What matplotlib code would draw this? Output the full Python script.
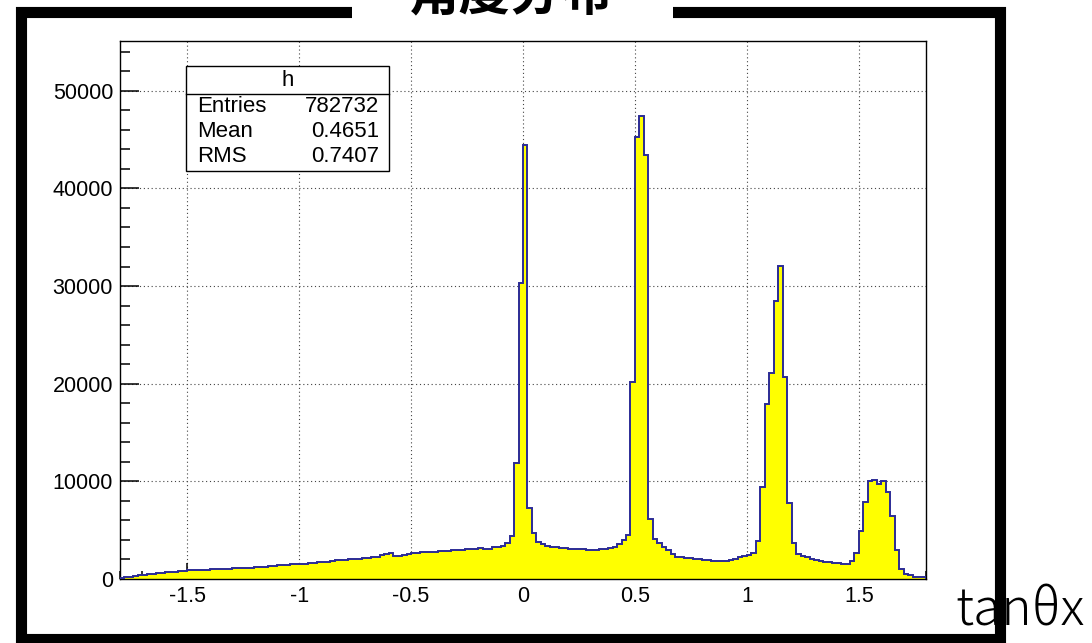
import numpy as np
import matplotlib
matplotlib.use('Agg')
import matplotlib.pyplot as plt
from matplotlib.patches import Rectangle
from matplotlib.lines import Line2D
from matplotlib.ticker import MultipleLocator

# histogram: 180 bins of width 0.02 between -1.8 and 1.8
x_lo, x_hi, n_bins = -1.8, 1.8, 180

# counts, -1.80 .. -0.92
counts_far_neg = [130, 190, 250, 320, 360, 420, 480, 540, 590, 640,
                  690, 720, 760, 800, 850, 880, 880, 910, 940, 950,
                  980, 1000, 1000, 1030, 1060, 1080, 1100, 1110, 1150, 1170,
                  1220, 1250, 1270, 1330, 1360, 1410, 1430, 1460, 1500, 1520,
                  1550, 1580, 1600, 1650, 1700]
# counts, -0.90 .. -0.02
counts_near_neg = [1740, 1780, 1810, 1910, 1950, 1980, 2020, 2050, 2080, 2150,
                   2190, 2220, 2260, 2430, 2560, 2630, 2360, 2390, 2430, 2530,
                   2630, 2700, 2730, 2730, 2770, 2800, 2870, 2900, 2900, 2940,
                   2970, 2970, 3040, 3040, 3110, 3140, 3110, 3110, 3310, 3310,
                   3420, 3700, 4380, 11900, 30300]
# counts, 0.00 .. 0.88
counts_near_pos = [44400, 7250, 4750, 3830, 3590, 3420, 3320, 3250, 3180, 3150,
                   3110, 3080, 3040, 3080, 3010, 2940, 2970, 3040, 3110, 3150,
                   3320, 3590, 4000, 4480, 20200, 45300, 47400, 43400, 6150, 4100,
                   3650, 3300, 2950, 2600, 2290, 2250, 2200, 2120, 2050, 2000,
                   1950, 1920, 1880, 1850, 1820]
# counts, 0.90 .. 1.78
counts_far_pos = [1850, 1920, 2080, 2220, 2360, 2430, 2630, 3930, 9470, 17940,
                  21080, 28430, 32090, 20640, 7760, 3660, 2600, 2360, 2290, 2080,
                  1950, 1810, 1780, 1710, 1670, 1610, 1570, 1540, 1800, 2700,
                  4950, 7930, 10080, 10150, 9740, 10080, 8950, 6460, 2970, 990,
                  510, 380, 240, 240, 170]

x_ticks = [-1.5, -1, -0.5, 0, 0.5, 1, 1.5]
x_ticklabels = ['-1.5', '-1', '-0.5', '0', '0.5', '1', '1.5']
y_ticks = [0, 10000, 20000, 30000, 40000, 50000]
y_top = 55100

stats_name = 'h'
stats_rows = [('Entries', '782732'), ('Mean', '0.4651'), ('RMS', '0.7407')]

counts = np.array(counts_far_neg + counts_near_neg + counts_near_pos + counts_far_pos)
edges = np.linspace(x_lo, x_hi, n_bins + 1)

W, H = 1092, 643
fig = plt.figure(figsize=(W / 100, H / 100), dpi=100)
fig.patch.set_facecolor('white')

def fx(px):
    return px / W

def fy(py):
    return 1 - py / H

ax = fig.add_axes([fx(120), fy(579), fx(926) - fx(120), fy(41) - fy(579)])
ax.stairs(counts, edges, fill=True, color='#ffff00', lw=0, zorder=2)
ax.stairs(counts, edges, baseline=0, color='#2b2b96', lw=1.4, zorder=3)

ax.set_xlim(x_lo, x_hi)
ax.set_ylim(0, y_top)
ax.set_xticks(x_ticks)
ax.set_xticklabels(x_ticklabels)
ax.set_yticks(y_ticks)
ax.set_yticklabels([str(v) for v in y_ticks])
ax.xaxis.set_minor_locator(MultipleLocator(0.1))
ax.yaxis.set_minor_locator(MultipleLocator(2000))

for lab in ax.get_xticklabels() + ax.get_yticklabels():
    lab.set_family('Liberation Sans')
ax.tick_params(axis='x', which='major', direction='in', length=11.5, width=1.1,
               pad=5, labelsize=15.5)
ax.tick_params(axis='x', which='minor', direction='in', length=6, width=1.1)
ax.tick_params(axis='y', which='major', direction='in', length=14, width=1.1,
               pad=5, labelsize=15.5)
ax.tick_params(axis='y', which='minor', direction='in', length=7.5, width=1.1)

ax.grid(True, which='major', linestyle=(0, (1, 2.5)), color='#444444', lw=0.8)
ax.set_axisbelow(True)
for s in ax.spines.values():
    s.set_linewidth(1.0)
    s.set_color('black')

# stats box
box_l, box_r, box_t, box_b, box_sep = 186, 389, 66, 171, 94
fig.add_artist(Rectangle((fx(box_l), fy(box_b)), fx(box_r) - fx(box_l), fy(box_t) - fy(box_b),
                         transform=fig.transFigure, facecolor='white', edgecolor='black',
                         lw=1.0, zorder=6))
fig.add_artist(Line2D([fx(box_l), fx(box_r)], [fy(box_sep), fy(box_sep)],
                      transform=fig.transFigure, color='black', lw=1.0, zorder=7))
fig.text(fx((box_l + box_r) / 2), fy(80), stats_name, ha='center', va='center',
         fontsize=16, family='Liberation Sans', zorder=7)
for i, (k, v) in enumerate(stats_rows):
    yy = fy(106 + i * 25.5)
    fig.text(fx(197), yy, k, ha='left', va='center', fontsize=16,
             family='Liberation Sans', zorder=7)
    fig.text(fx(379), yy, v, ha='right', va='center', fontsize=16,
             family='Liberation Sans', zorder=7)

# x axis title, partly hidden under the canvas frame
fig.text(fx(955), fy(625), 'tanθx', ha='left', va='baseline', fontsize=37,
         family=['Noto Sans CJK JP', 'DejaVu Sans'], fontweight='light', zorder=5)

# thick canvas frame
fig.add_artist(Rectangle((fx(21), fy(639)), fx(1000.5) - fx(21), fy(12) - fy(639),
                         transform=fig.transFigure, fill=False, edgecolor='black',
                         lw=8, joinstyle='miter', zorder=10))

# title box over the frame; the title itself runs off the top edge as in the original
fig.add_artist(Rectangle((fx(352), fy(22)), fx(673) - fx(352), fy(0) - fy(22) + 0.01,
                         transform=fig.transFigure, facecolor='white', edgecolor='none',
                         zorder=11))
fig.text(fx(510), fy(9), '角度分布', ha='center', va='baseline', fontsize=37,
         family=['Noto Sans CJK SC', 'DejaVu Sans'], fontweight='bold', zorder=12)

fig.savefig('out.png', dpi=100)
